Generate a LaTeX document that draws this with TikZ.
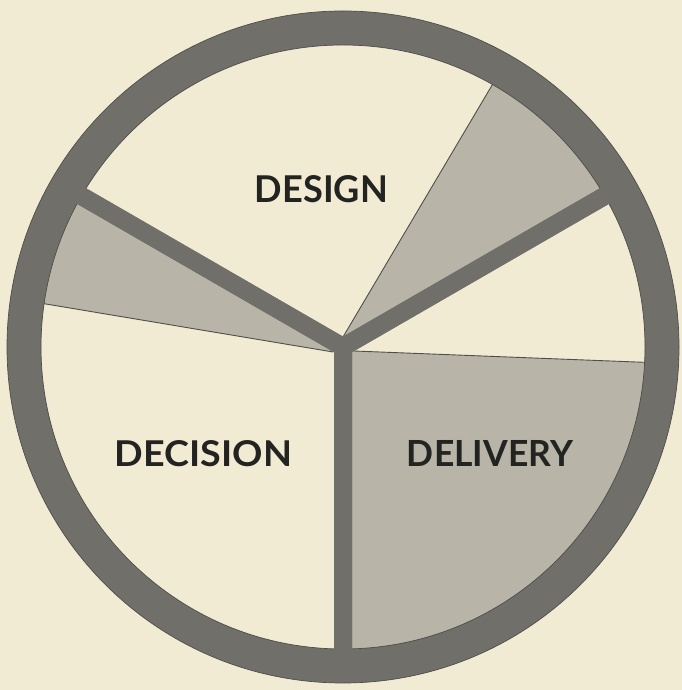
\documentclass[tikz,border=0pt]{standalone}
\usepackage{fontspec}
\setmainfont{Lato}
\usepackage{graphicx}
\usetikzlibrary{calc}
\definecolor{bg}{RGB}{242,235,212}
\definecolor{shadecol}{RGB}{184,181,168}
\definecolor{ringcol}{RGB}{112,111,106}
\definecolor{edgecol}{RGB}{78,78,74}
\definecolor{ink}{RGB}{35,35,33}
\tikzset{
  divline/.style={draw=edgecol, line width=0.9bp},
  spoke/.style={draw=ringcol, line width=18bp, line join=miter, line cap=butt},
  label/.style={inner sep=0pt, text=ink, font=\bfseries}
}
\begin{document}
\begin{tikzpicture}[x=1bp,y=1bp]
\fill[bg] (0,0) rectangle (682,690);
\useasboundingbox (0,0) rectangle (682,690);
\coordinate (C) at (343,343);
% shaded sectors
\begin{scope}
\clip (C) circle (303);
\fill[shadecol] (C) -- ($(C)+(-10,-5)$) -- ($(C)+(-345,51)$) -- ($(C)+(150:400)$) -- cycle;
\fill[shadecol] ($(C)+(0,10)$) -- ($(C)+(190,331)$) -- ($(C)+(30:400)$) -- (C) -- cycle;
\fill[shadecol] (C) -- ($(C)+(11,-4)$) -- ($(C)+(370,-18)$) -- ($(C)+(370,-400)$) -- ($(C)+(0,-400)$) -- cycle;
\draw[divline] ($(C)+(-10,-5)$) -- ($(C)+(-345,51)$);
\draw[divline] ($(C)+(0,10)$) -- ($(C)+(190,331)$);
\draw[divline] ($(C)+(11,-4)$) -- ($(C)+(370,-18)$);
\end{scope}
% ring
\draw[ringcol, line width=34bp] (C) circle (319);
\draw[edgecol, line width=0.7bp] (C) circle (302);
\draw[edgecol, line width=0.7bp] (C) circle (336);
% spokes
\coordinate (A30) at ($(C)+(30:319)$);
\coordinate (A150) at ($(C)+(150:319)$);
\coordinate (A270) at ($(C)+(270:319)$);
\draw[spoke] (A150) -- (C) -- (A30);
\draw[spoke] (A150) -- (C) -- (A270);
\draw[spoke] (A30) -- (C) -- (A270);
% labels
\node[label] (design) at (321.5,500.5) {\resizebox{133bp}{27bp}{DESIGN}};
\node[label] (decision) at (203.5,236) {\resizebox{177bp}{26bp}{DECISION}};
\node[label] (delivery) at (490,236) {\resizebox{166bp}{26bp}{DELIVERY}};
\end{tikzpicture}
\end{document}
